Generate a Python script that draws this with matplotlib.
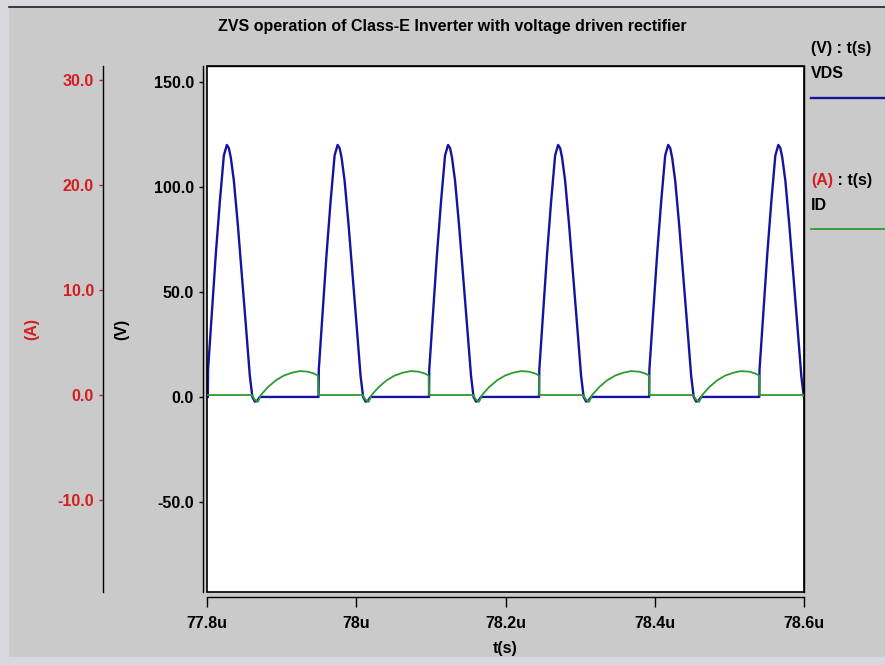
import numpy as np
import matplotlib
matplotlib.use("Agg")
import matplotlib.pyplot as plt
from matplotlib.ticker import FixedLocator, FuncFormatter
from matplotlib.patches import Rectangle
from matplotlib.lines import Line2D

plt.rcParams["font.family"] = ["Liberation Sans", "DejaVu Sans"]
plt.rcParams["font.weight"] = "bold"
plt.rcParams["axes.labelweight"] = "bold"

title = "ZVS operation of Class-E Inverter with voltage driven rectifier"

# switching instants (rising edge of VDS), microseconds
edge_us = [77.8011, 77.9495, 78.0975, 78.2450, 78.3925, 78.5401]

# VDS hump following each edge: time after edge (us) and voltage (V)
vds_dt_us = [0.0, 0.0003, 0.0054, 0.0107, 0.0161, 0.0215, 0.0255, 0.0282,
             0.0308, 0.0349, 0.0402, 0.0456, 0.0510, 0.0563, 0.0597, 0.0630,
             0.0657, 0.0697]
vds_v = [0.0, 13.0, 40.0, 68.0, 93.0, 115.0, 120.0, 118.5,
         114.0, 103.0, 82.0, 58.0, 34.0, 10.0, 0.0, -2.2,
         -2.0, 0.0]

# drain current over one cycle: time after edge (us) and current (A)
id_dt_us = [0.0, 0.0590, 0.0630, 0.0671, 0.0711, 0.0805, 0.0912, 0.1019,
            0.1127, 0.1234, 0.1341, 0.1422, 0.1475]
id_a = [0.0, 0.0, -0.45, -0.65, 0.0, 0.75, 1.40, 1.85,
        2.12, 2.28, 2.22, 2.05, 1.85]

x_ticks_us = [77.8, 78.0, 78.2, 78.4, 78.6]
v_ticks = [150.0, 100.0, 50.0, 0.0, -50.0]
a_ticks = [30.0, 20.0, 10.0, 0.0, -10.0]

series_names = ["VDS", "ID"]
blue = "#1414a0"
green = "#2f9a2f"
red = "#d41e1e"
fs = 11.5

t_vds = np.concatenate([e + np.asarray(vds_dt_us) for e in edge_us])
v_vds = np.tile(vds_v, len(edge_us))
t_id = np.concatenate([e + np.asarray(id_dt_us) for e in edge_us])
i_d = np.tile(id_a, len(edge_us))

W, H = 885, 665
fig = plt.figure(figsize=(W / 100, H / 100), dpi=100, facecolor="#d8d8de")
fig.patches.append(Rectangle((9 / W, 8 / H), 1 - 9 / W, (657 - 7) / H,
                             transform=fig.transFigure, facecolor="#cacaca",
                             edgecolor="none", zorder=-10))
fig.lines.append(Line2D([9 / W, 1], [1 - 7 / H, 1 - 7 / H], transform=fig.transFigure,
                        color="#202020", lw=1.2, zorder=-5))

px = 0.72  # points per pixel at 100 dpi

ax = fig.add_axes([207 / W, (H - 592) / H, 597 / W, 526 / H])
ax.set_facecolor("white")
ax.plot(t_vds, v_vds, color=blue, lw=1.7, solid_joinstyle="round")
ax.set_xlim(77.8, 78.6)
ax.set_ylim(-92.9, 157.6)

ax.spines["left"].set_position(("outward", 4 * px))
ax.spines["bottom"].set_position(("outward", 5 * px))
for s in ax.spines.values():
    s.set_linewidth(1.0)
    s.set_color("black")
ax.add_patch(Rectangle((0, 0), 1, 1, transform=ax.transAxes, fill=False,
                       edgecolor="black", lw=1.2, zorder=5, clip_on=False))

ax.xaxis.set_major_locator(FixedLocator(x_ticks_us))
ax.xaxis.set_major_formatter(FuncFormatter(lambda v, p: f"{round(v, 3):g}u"))
ax.yaxis.set_major_locator(FixedLocator(v_ticks))
ax.yaxis.set_major_formatter(FuncFormatter(lambda v, p: f"{v:.1f}"))
ax.tick_params(axis="y", direction="out", length=4 * px, width=1, pad=5 * px,
               labelsize=fs)
ax.tick_params(axis="x", direction="out", length=10 * px, width=1, pad=9 * px,
               labelsize=fs)
ax.set_xlabel("t(s)", fontsize=fs, fontweight="bold")
ax.xaxis.set_label_coords(0.5, -(641 - 592) / 526)
ax.set_ylabel("(V)", fontsize=fs, fontweight="bold")
ax.yaxis.set_label_coords((129 - 207) / 597, 0.5)

ax2 = ax.twinx()
ax2.plot(t_id, i_d, color=green, lw=1.3)
ax2.set_ylim(-18.76, 31.33)
ax2.set_xlim(77.8, 78.6)
ax2.yaxis.tick_left()
ax2.yaxis.set_label_position("left")
for k in ("right", "top", "bottom"):
    ax2.spines[k].set_visible(False)
ax2.spines["left"].set_visible(True)
ax2.spines["left"].set_position(("outward", 104 * px))
ax2.spines["left"].set_linewidth(1.0)
ax2.yaxis.set_major_locator(FixedLocator(a_ticks))
ax2.yaxis.set_major_formatter(FuncFormatter(lambda v, p: f"{v:.1f}"))
ax2.tick_params(axis="y", direction="out", length=4 * px, width=1, pad=5 * px,
                labelsize=fs, colors=red)
ax2.set_ylabel("(A)", fontsize=fs, color=red, fontweight="bold")
ax2.yaxis.set_label_coords((39 - 207) / 597, 0.5)

# title
fig.text(452 / W, 1 - 27 / H, title, ha="center", va="center", fontsize=fs)

# right-hand signal legend
lx = 811 / W
fig.text(lx, 1 - 49 / H, "(V) : t(s)", ha="left", va="center", fontsize=fs)
fig.text(lx, 1 - 74 / H, series_names[0], ha="left", va="center", fontsize=fs)
fig.lines.append(Line2D([lx, 1], [1 - 98 / H] * 2, transform=fig.transFigure,
                        color=blue, lw=1.7))
ta = fig.text(lx, 1 - 180 / H, "(A)", ha="left", va="center", fontsize=fs, color=red)
renderer = fig.canvas.get_renderer()
bb = ta.get_window_extent(renderer=renderer)
fig.text(bb.x1 / W, 1 - 180 / H, " : t(s)", ha="left", va="center", fontsize=fs)
fig.text(lx, 1 - 206 / H, series_names[1], ha="left", va="center", fontsize=fs)
fig.lines.append(Line2D([lx, 1], [1 - 229 / H] * 2, transform=fig.transFigure,
                        color=green, lw=1.3))

fig.savefig("out.png", dpi=100, facecolor=fig.get_facecolor())
